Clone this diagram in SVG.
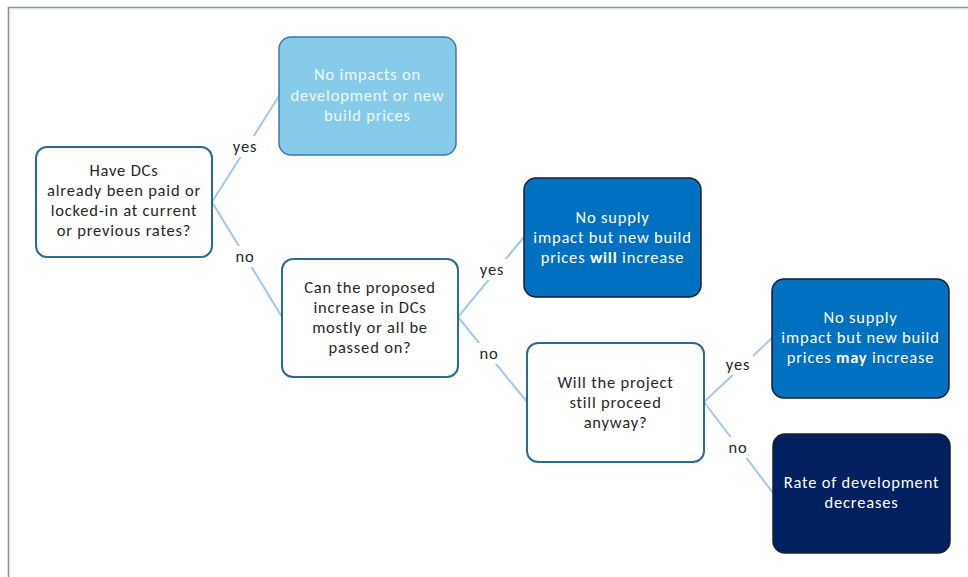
<svg xmlns="http://www.w3.org/2000/svg" width="968" height="577" viewBox="0 0 968 577">
  <style>
    text { font-family: Carlito, Lato, "Liberation Sans", sans-serif; font-size: 16.5px; letter-spacing: 0.8px; text-anchor: middle; }
    .dark { fill: #262626; }
    .light { fill: #eef7fc; }
    .white { fill: #ffffff; }
    .q { fill: #ffffff; stroke: #2a6b8f; stroke-width: 2; }
    .n0 { fill: #86cbea; stroke: #3b78b0; stroke-width: 1.5; }
    .n1 { fill: #0070c0; stroke: #1c1c2c; stroke-width: 1.5; }
    .n2 { fill: #002060; stroke: #1c1c2c; stroke-width: 1.5; }
    .edge { stroke: #a4c8ea; stroke-width: 2; fill: none; }
    .lblbg { fill: #ffffff; }
    .lbl { fill: #262626; }
  </style>

  <!-- frame -->
  <path d="M8.5,577 V7.5 H968" fill="none" stroke="#86959c" stroke-width="1.6"/>
  <path d="M10,577 V9 H968" fill="none" stroke="#dfe5e8" stroke-width="1"/>

  <!-- connectors -->
  <g id="connectors">
    <line class="edge" x1="212" y1="202" x2="279" y2="96"/>
    <line class="edge" x1="212" y1="202" x2="282" y2="317"/>
    <line class="edge" x1="458" y1="317" x2="524" y2="237"/>
    <line class="edge" x1="458" y1="317" x2="527" y2="402"/>
    <line class="edge" x1="704" y1="402" x2="772" y2="338"/>
    <line class="edge" x1="704" y1="402" x2="773" y2="493"/>

    <rect class="lblbg" x="230" y="136" width="30" height="21"/>
    <text class="lbl" x="245" y="152">yes</text>
    <rect class="lblbg" x="233" y="246" width="24" height="21"/>
    <text class="lbl" x="245" y="262">no</text>

    <rect class="lblbg" x="477" y="259" width="30" height="21"/>
    <text class="lbl" x="492" y="275">yes</text>
    <rect class="lblbg" x="477" y="343" width="24" height="21"/>
    <text class="lbl" x="489" y="359">no</text>

    <rect class="lblbg" x="723" y="354" width="30" height="21"/>
    <text class="lbl" x="738" y="370">yes</text>
    <rect class="lblbg" x="726" y="437" width="24" height="21"/>
    <text class="lbl" x="738" y="453">no</text>
  </g>

  <g id="q-paid">
    <rect class="q" x="36" y="147" width="176" height="110" rx="11"/>
    <text class="dark" x="124" y="176">Have DCs</text>
    <text class="dark" x="124" y="196">already been paid or</text>
    <text class="dark" x="124" y="216">locked-in at current</text>
    <text class="dark" x="124" y="236">or previous rates?</text>
  </g>

  <g id="r-no-impact">
    <rect class="n0" x="279" y="37" width="177" height="118" rx="12"/>
    <text class="light" x="367.5" y="80">No impacts on</text>
    <text class="light" x="367.5" y="100.5">development or new</text>
    <text class="light" x="367.5" y="120.5">build prices</text>
  </g>

  <g id="q-passed-on">
    <rect class="q" x="282" y="259" width="176" height="118" rx="11"/>
    <text class="dark" x="370" y="292.5">Can the proposed</text>
    <text class="dark" x="370" y="312.5">increase in DCs</text>
    <text class="dark" x="370" y="332.5">mostly or all be</text>
    <text class="dark" x="370" y="352.5">passed on?</text>
  </g>

  <g id="r-will-increase">
    <rect class="n1" x="524" y="178" width="177" height="119" rx="12"/>
    <text class="white" x="612.5" y="223">No supply</text>
    <text class="white" x="612.5" y="243">impact but new build</text>
    <text class="white" x="612.5" y="263">prices <tspan font-weight="bold">will</tspan> increase</text>
  </g>

  <g id="q-proceed">
    <rect class="q" x="527" y="343" width="177" height="119" rx="11"/>
    <text class="dark" x="615.5" y="388">Will the project</text>
    <text class="dark" x="615.5" y="408">still proceed</text>
    <text class="dark" x="615.5" y="428">anyway?</text>
  </g>

  <g id="r-may-increase">
    <rect class="n1" x="772" y="279" width="177" height="119" rx="12"/>
    <text class="white" x="860.5" y="323">No supply</text>
    <text class="white" x="860.5" y="343">impact but new build</text>
    <text class="white" x="860.5" y="363">prices <tspan font-weight="bold">may</tspan> increase</text>
  </g>

  <g id="r-decreases">
    <rect class="n2" x="773" y="434" width="177" height="119" rx="12"/>
    <text class="white" x="861.5" y="488">Rate of development</text>
    <text class="white" x="861.5" y="508">decreases</text>
  </g>
</svg>
